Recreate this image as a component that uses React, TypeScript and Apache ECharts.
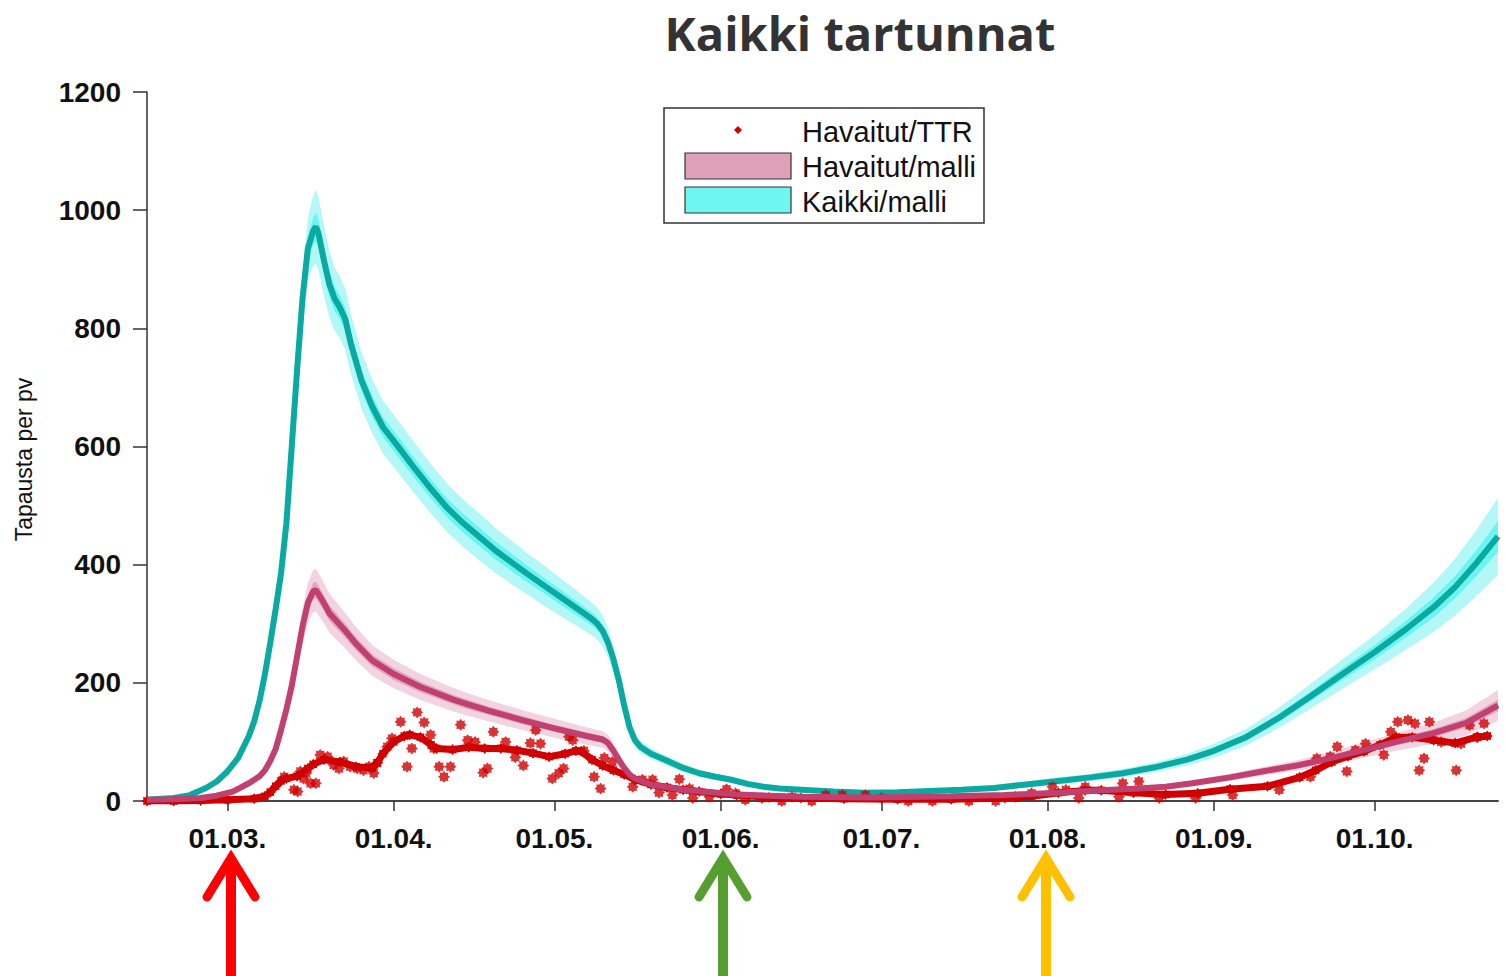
import React, { useEffect, useRef } from "react";
import * as echarts from "echarts";

// x = days since 15.02.2020
const monthTicks = [15, 46, 76, 107, 137, 168, 199, 229];
const monthLabels = ["01.03.", "01.04.", "01.05.", "01.06.", "01.07.", "01.08.", "01.09.", "01.10."];
const yTicks = [0, 200, 400, 600, 800, 1000, 1200];

// Kaikki/malli
const kDays = [
  0, 5, 8, 11, 13, 15, 17, 19, 20, 21,
  22, 23, 24, 25, 26, 27, 28, 29, 30, 31,
  31.5, 32, 33, 34, 35, 36, 37, 38, 40, 42,
  44, 47, 50, 53, 56, 59, 62, 65, 68, 71,
  74, 77, 80, 83, 84, 85, 86, 87, 88, 89,
  90, 91, 92, 94, 97, 100, 103, 106, 109, 112,
  115, 118, 122, 128, 134, 140, 146, 152, 158, 164,
  170, 176, 182, 188, 194, 199, 205, 211, 217, 223,
  229, 235, 240, 244, 248, 252,
];
const kMid = [
  2, 5, 10, 22, 33, 50, 73, 110, 135, 170,
  215, 268, 325, 385, 470, 600, 730, 850, 935, 965,
  972, 960, 915, 875, 850, 835, 815, 775, 712, 668,
  633, 598, 562, 528, 496, 470, 447, 424, 404, 384,
  365, 346, 327, 308, 300, 288, 268, 240, 205, 162,
  125, 103, 92, 80, 68, 56, 47, 41, 36, 29,
  24, 21, 19, 16, 14, 15, 17, 19, 22, 28,
  34, 40, 47, 57, 70, 85, 108, 140, 177, 215,
  252, 292, 328, 362, 403, 448,
];
const kOuter = [
  1, 1, 2, 3, 4, 5, 6, 8, 9, 10,
  12, 14, 16, 18, 22, 28, 34, 42, 52, 60,
  62, 62, 60, 56, 54, 52, 52, 50, 48, 46,
  45, 44, 43, 42, 41, 40, 40, 38, 37, 35,
  34, 32, 30, 28, 27, 26, 25, 22, 19, 16,
  13, 11, 10, 9, 8, 7, 6, 5, 5, 4,
  4, 4, 3, 3, 3, 3, 3, 4, 4, 5,
  6, 6, 7, 8, 10, 12, 14, 17, 21, 25,
  29, 35, 42, 48, 56, 65,
];
const kInner = [
  0, 0, 1, 1, 2, 2, 2, 3, 3, 4,
  5, 5, 6, 7, 9, 11, 13, 16, 20, 23,
  24, 24, 23, 22, 21, 20, 20, 19, 18, 18,
  17, 17, 17, 16, 16, 16, 16, 15, 15, 14,
  13, 13, 12, 11, 11, 10, 10, 9, 8, 6,
  5, 4, 4, 4, 3, 3, 2, 2, 2, 2,
  2, 2, 1, 1, 1, 1, 1, 2, 2, 2,
  2, 2, 3, 3, 4, 5, 6, 7, 8, 10,
  12, 14, 17, 19, 22, 26,
];

// Havaitut/malli
const hDays = [
  0, 5, 10, 13, 16, 19, 21, 22, 23, 24,
  25, 26, 27, 28, 29, 30, 31, 31.5, 32, 33,
  34, 35, 36, 37, 39, 42, 46, 51, 57, 60,
  64, 70, 76, 82, 85, 86, 87, 88, 89, 90,
  91, 94, 100, 110, 122, 135, 150, 160, 170, 178,
  185, 190, 195, 202, 208, 215, 221, 227, 233, 240,
  246, 252,
];
const hMid = [
  2, 3, 5, 9, 16, 30, 42, 52, 68, 88,
  120, 155, 195, 245, 295, 335, 355, 357, 350, 335,
  318, 308, 298, 288, 266, 238, 215, 193, 172, 163,
  152, 137, 123, 110, 104, 98, 85, 70, 56, 45,
  38, 28, 19, 11, 7, 6, 8, 10, 14, 18,
  21, 24, 30, 40, 50, 61, 73, 86, 100, 115,
  132, 162,
];
const hOuter = [
  1, 1, 1, 2, 3, 4, 5, 6, 7, 9,
  12, 16, 20, 25, 30, 34, 36, 36, 36, 34,
  33, 32, 31, 30, 28, 26, 24, 22, 20, 19,
  18, 17, 16, 15, 14, 14, 13, 11, 9, 7,
  6, 5, 4, 3, 2, 2, 2, 2, 3, 3,
  4, 4, 5, 6, 7, 9, 11, 13, 15, 18,
  21, 26,
];
const hInner = [
  0, 0, 0, 1, 1, 2, 2, 2, 3, 4,
  5, 6, 8, 10, 12, 13, 14, 14, 14, 13,
  13, 13, 12, 12, 11, 10, 10, 9, 8, 8,
  7, 7, 6, 6, 6, 6, 5, 4, 4, 3,
  2, 2, 2, 1, 1, 1, 1, 1, 1, 1,
  2, 2, 2, 2, 3, 4, 4, 5, 6, 7,
  8, 10,
];

// Havaitut/TTR – dense trail of observations
const tDays = [
  0, 5, 10, 15, 20, 22, 23, 24, 25, 26, 28, 30, 31, 33, 36, 39, 42, 43, 44, 46,
  48, 49, 51, 53, 54, 57, 60, 63, 66, 69, 72, 75, 78, 80, 81, 83, 85, 87, 89, 91,
  94, 97, 100, 103, 107, 110, 116, 122, 130, 140, 150, 160, 165, 170, 175, 178, 184, 190, 196, 202,
  209, 215, 218, 221, 224, 227, 230, 233, 236, 240, 244, 248, 250,
];
const tVals = [
  0, 0, 1, 2, 4, 8, 15, 25, 34, 38, 42, 55, 62, 70, 66, 58, 56, 65, 80, 100,
  110, 112, 108, 95, 89, 87, 91, 89, 89, 86, 81, 75, 80, 85, 84, 70, 60, 52, 45, 36,
  28, 23, 19, 16, 12, 10, 6, 5, 4, 3, 3, 5, 8, 14, 18, 18, 14, 11, 13, 20,
  25, 40, 52, 66, 76, 84, 95, 108, 108, 103, 98, 108, 110,
];
// Havaitut/TTR – scattered single days [day, cases]
const ttrDots = [
  [25.6, 41], [27.4, 19], [28.1, 16], [28.6, 50], [29.2, 38], [29.7, 47], [30.5, 30], [31.5, 30],
  [32.3, 78], [33.7, 75], [34.8, 61], [35.8, 55], [36.7, 67], [37.9, 58], [39.2, 55], [40.4, 52],
  [41.4, 58], [42.3, 47], [42.9, 64], [44.8, 92], [45.7, 106], [47.3, 134], [48.5, 58], [49.4, 89],
  [50.4, 150], [51.7, 133], [52.9, 112], [53.5, 89], [54.5, 58], [55.4, 41], [56.6, 58], [58.5, 129],
  [59.8, 103], [61.2, 100], [62.7, 48], [63.5, 55], [64.6, 117], [66.9, 100], [68.7, 74], [70.2, 60],
  [71.5, 98], [72.5, 120], [73.4, 97], [75.6, 38], [76.8, 47], [77.7, 55], [78.7, 109], [79.4, 103],
  [81.5, 85], [83.4, 41], [84.6, 21], [85.3, 73], [86.8, 66], [90.6, 24], [92.4, 36], [94.3, 36],
  [95.5, 14], [98, 10], [99.3, 37], [101.2, 21], [101.8, 5], [104.9, 7], [108.1, 20], [109.8, 13],
  [111.6, 2], [114.7, 5], [118.4, 0], [120.3, 7], [124, 0], [126.6, 10], [129.7, 10], [134, 10],
  [137, 5], [142, 0], [146.5, 0], [153.3, 0], [158.3, 0], [162, 7], [165, 13], [168.9, 24],
  [171.4, 19], [173.8, 5], [175, 24], [181.3, 7], [182, 30], [185, 33], [188.8, 5], [195.6, 5],
  [202.5, 10], [211.2, 19], [217, 41], [218.2, 72], [220.7, 75], [222, 92], [223.8, 50], [225.4, 86],
  [227.3, 97], [230.7, 78], [232, 117], [233.3, 134], [235.2, 137], [236.5, 131], [237.3, 52], [238.2, 72],
  [239.2, 134], [241.4, 100], [244.2, 52], [245.1, 97], [246.7, 128], [248.2, 108], [249.4, 131],
];

const STAR =
  "path://M20 10L16.47 12.68L17.07 17.07L12.68 16.47L10 20L7.32 16.47L2.93 17.07L3.53 12.68L0 10L3.53 7.32L2.93 2.93L7.32 3.53L10 0L12.68 3.53L17.07 2.93L16.47 7.32Z";

const FONT = "'Liberation Sans', Arial, sans-serif";
const RED = "#D00000";

// one filled band between lo and hi, drawn through the axis scales
function band(name: string, days: number[], lo: number[], hi: number[], color: string, z: number) {
  const data = days.map((d, i) => [d, lo[i], hi[i]]);
  return {
    type: "custom",
    name,
    silent: true,
    z,
    data,
    encode: { x: 0, y: [1, 2] },
    renderItem: (params: any, api: any) => {
      if (params.dataIndex !== 0) return null;
      const upper = data.map((p) => api.coord([p[0], p[2]]));
      const lower = data.map((p) => api.coord([p[0], p[1]])).reverse();
      return {
        type: "polygon",
        shape: { points: upper.concat(lower) },
        style: { fill: color, stroke: null },
      };
    },
  };
}

function bandPair(id: string, days: number[], mid: number[], outer: number[], inner: number[], cOuter: string, cInner: string, z: number) {
  return [
    band(id + "-95", days, mid.map((m, i) => m - outer[i]), mid.map((m, i) => m + outer[i]), cOuter, z),
    band(id + "-50", days, mid.map((m, i) => m - inner[i]), mid.map((m, i) => m + inner[i]), cInner, z + 0.1),
  ];
}

function arrow(x: number, color: string) {
  return [
    { type: "line", shape: { x1: x, y1: 866, x2: x, y2: 980 }, style: { stroke: color, lineWidth: 10 } },
    {
      type: "polyline",
      shape: { points: [[x - 24, 897], [x, 858], [x + 24, 897]] },
      style: { stroke: color, lineWidth: 9, lineCap: "round", lineJoin: "miter", fill: null },
    },
  ];
}

const legendFont = "29px 'Liberation Sans', Arial, sans-serif";

export default function App() {
  const ref = useRef<HTMLDivElement>(null);
  useEffect(() => {
    if (!ref.current) return;
    const chart = echarts.init(ref.current, null, { renderer: "svg" });
    const option: any = {
      animation: false,
      backgroundColor: "#ffffff",
      grid: { left: 147, right: 8, top: 92, bottom: 175, containLabel: false },
      xAxis: {
        type: "value",
        min: 0,
        max: 252,
        splitLine: { show: false },
        axisLine: { show: true, lineStyle: { color: "#444", width: 2 } },
        axisTick: { show: true, customValues: monthTicks, length: 10, lineStyle: { color: "#333", width: 1.5 } },
        axisLabel: {
          customValues: monthTicks,
          formatter: (v: number) => {
            const i = monthTicks.indexOf(Math.round(v));
            return i >= 0 ? monthLabels[i] : "";
          },
          margin: 23,
          color: "#111",
          fontFamily: FONT,
          fontWeight: "bold",
          fontSize: 28,
        },
      },
      yAxis: {
        type: "value",
        min: 0,
        max: 1200,
        interval: 200,
        name: "Tapausta per pv",
        nameLocation: "middle",
        nameGap: 112,
        nameRotate: 90,
        nameTextStyle: { fontFamily: FONT, fontSize: 23, color: "#111", padding: [0, 26, 0, 0] },
        splitLine: { show: false },
        axisLine: { show: true, lineStyle: { color: "#333", width: 1.5 } },
        axisTick: { show: true, length: 14, lineStyle: { color: "#333", width: 1.5 } },
        axisLabel: {
          margin: 26,
          color: "#111",
          fontFamily: FONT,
          fontWeight: "bold",
          fontSize: 28,
          formatter: (v: number) => (yTicks.indexOf(v) >= 0 ? String(v) : ""),
        },
      },
      series: [
        ...bandPair("kaikki", kDays, kMid, kOuter, kInner, "#B3F8F6", "#6CF5F0", 1),
        {
          type: "line",
          name: "Kaikki/malli",
          data: kDays.map((d, i) => [d, kMid[i]]),
          symbol: "none",
          lineStyle: { color: "#0AA9A2", width: 6 },
          z: 2,
        },
        ...bandPair("havaitut", hDays, hMid, hOuter, hInner, "#F2D4E1", "#E2A6C1", 3),
        {
          type: "line",
          name: "Havaitut/TTR trend",
          data: tDays.map((d, i) => [d, tVals[i]]),
          symbol: STAR,
          symbolSize: 11,
          showSymbol: true,
          itemStyle: { color: RED },
          lineStyle: { color: RED, width: 7 },
          z: 4,
        },
        {
          type: "scatter",
          name: "Havaitut/TTR",
          data: ttrDots,
          symbol: STAR,
          symbolSize: 12,
          itemStyle: { color: RED },
          z: 5,
        },
        {
          type: "line",
          name: "Havaitut/malli",
          data: hDays.map((d, i) => [d, hMid[i]]),
          symbol: "none",
          lineStyle: { color: "#C0406F", width: 6 },
          z: 6,
        },
      ],
      graphic: [
        {
          type: "text",
          x: 860,
          y: 33,
          style: {
            text: "Kaikki tartunnat",
            fill: "#333333",
            font: "bold 47px 'Open Sans', 'Noto Sans', sans-serif",
            textAlign: "center",
            textVerticalAlign: "middle",
          },
        },
        {
          type: "rect",
          shape: { x: 664, y: 108, width: 320, height: 115 },
          style: { fill: "#ffffff", stroke: "#333", lineWidth: 1.5 },
          z: 10,
        },
        {
          type: "polygon",
          shape: { points: [[742, 130], [738, 126], [734, 130], [738, 134]] },
          style: { fill: RED },
          z: 11,
        },
        {
          type: "rect",
          shape: { x: 685, y: 153, width: 106, height: 26 },
          style: { fill: "#DFA0B9", stroke: "#333", lineWidth: 1.2 },
          z: 11,
        },
        {
          type: "rect",
          shape: { x: 685, y: 187, width: 106, height: 26 },
          style: { fill: "#6EF6F2", stroke: "#333", lineWidth: 1.2 },
          z: 11,
        },
        {
          type: "text",
          x: 802,
          y: 132,
          style: { text: "Havaitut/TTR", fill: "#111", font: legendFont, textVerticalAlign: "middle" },
          z: 11,
        },
        {
          type: "text",
          x: 802,
          y: 167,
          style: { text: "Havaitut/malli", fill: "#111", font: legendFont, textVerticalAlign: "middle" },
          z: 11,
        },
        {
          type: "text",
          x: 802,
          y: 202,
          style: { text: "Kaikki/malli", fill: "#111", font: legendFont, textVerticalAlign: "middle" },
          z: 11,
        },
        ...arrow(231, "#FF0000"),
        ...arrow(723, "#559E30"),
        ...arrow(1046, "#FFC000"),
      ],
    };
    chart.setOption(option);
    return () => chart.dispose();
  }, []);
  return <div ref={ref} style={{ position: "fixed", left: 0, top: 0, width: 1506, height: 976 }} />;
}
